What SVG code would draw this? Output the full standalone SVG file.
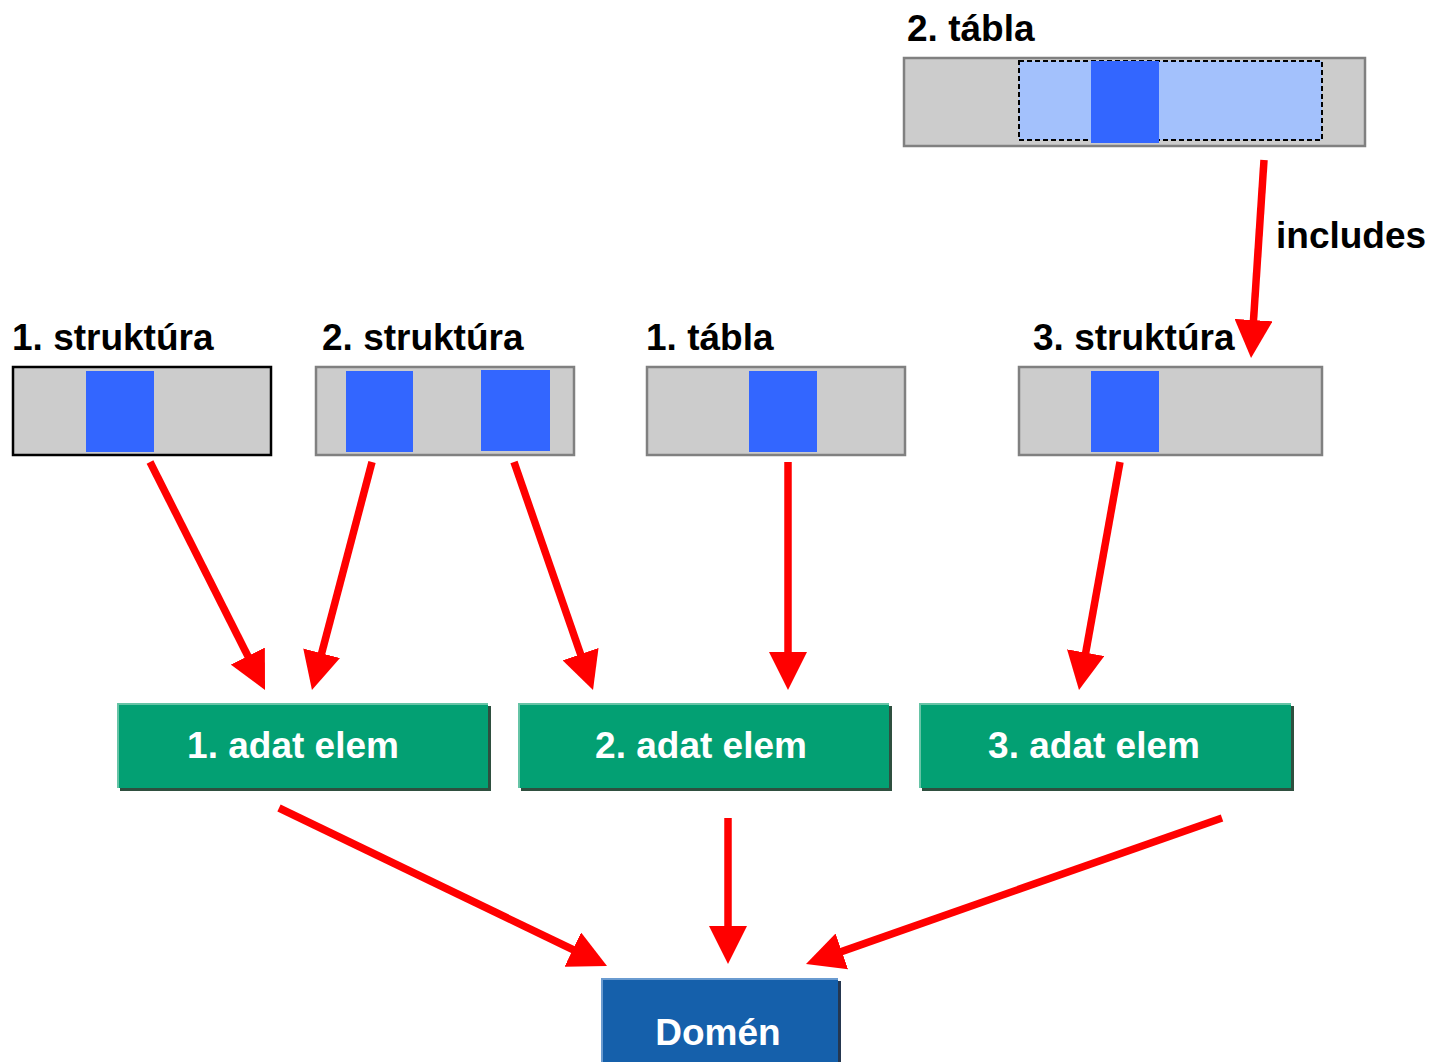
<svg xmlns="http://www.w3.org/2000/svg" width="1432" height="1062" viewBox="0 0 1432 1062">
<style>
.lbl{font-family:"Liberation Sans",Arial,sans-serif;font-weight:bold;font-size:37px;fill:#000}
.wt{font-family:"Liberation Sans",Arial,sans-serif;font-weight:bold;font-size:37px;fill:#fff;text-anchor:middle}
.tbl{fill:#CCCCCC;stroke:#808080;stroke-width:2.5}
.blk{fill:#3366FF}
.arr{stroke:#FF0000;stroke-width:7.5;fill:none;marker-end:url(#ah)}
.gshadow{fill:#2F4F3F}
.green{fill:#03A073}
.gedge{stroke:#66C4A6;stroke-width:2;fill:none}
</style>
<defs>
<marker id="ah" markerUnits="userSpaceOnUse" markerWidth="38" markerHeight="38" refX="8" refY="19" orient="auto">
<path d="M0,0 L38,19 L0,38 z" fill="#FF0000"/>
</marker>
</defs>
<rect width="1432" height="1062" fill="#fff"/>

<g id="tabla2">
<text class="lbl" x="907" y="41">2. tábla</text>
<rect class="tbl" x="904" y="58" width="461" height="88"/>
<rect x="1019" y="61" width="303" height="79" fill="#A3C1FC" stroke="#000" stroke-width="2" stroke-dasharray="5,3"/>
<rect class="blk" x="1091" y="61" width="68" height="82"/>
</g>

<g id="struktura1">
<text class="lbl" x="12" y="350">1. struktúra</text>
<rect x="13" y="367" width="258" height="88" fill="#CCCCCC" stroke="#000" stroke-width="2.5"/>
<rect class="blk" x="86" y="371" width="68" height="81"/>
</g>

<g id="struktura2">
<text class="lbl" x="322" y="350">2. struktúra</text>
<rect class="tbl" x="316" y="367" width="258" height="88"/>
<rect class="blk" x="346" y="371" width="67" height="81"/>
<rect class="blk" x="481" y="370" width="69" height="81"/>
</g>

<g id="tabla1">
<text class="lbl" x="646" y="350">1. tábla</text>
<rect class="tbl" x="647" y="367" width="258" height="88"/>
<rect class="blk" x="749" y="371" width="68" height="81"/>
</g>

<g id="struktura3">
<text class="lbl" x="1033" y="350">3. struktúra</text>
<rect class="tbl" x="1019" y="367" width="303" height="88"/>
<rect class="blk" x="1091" y="371" width="68" height="81"/>
</g>

<g id="adat1">
<rect class="gshadow" x="120" y="706" width="371" height="85"/>
<rect class="green" x="117" y="703" width="371" height="85"/>
<path class="gedge" d="M118,788 V704 H488"/>
<text class="wt" x="293" y="758">1. adat elem</text>
</g>

<g id="adat2">
<rect class="gshadow" x="521" y="706" width="371" height="85"/>
<rect class="green" x="518" y="703" width="371" height="85"/>
<path class="gedge" d="M519,788 V704 H889"/>
<text class="wt" x="701" y="758">2. adat elem</text>
</g>

<g id="adat3">
<rect class="gshadow" x="922" y="706" width="372" height="85"/>
<rect class="green" x="919" y="703" width="372" height="85"/>
<path class="gedge" d="M920,788 V704 H1291"/>
<text class="wt" x="1094" y="758">3. adat elem</text>
</g>

<g id="domen">
<rect x="604" y="981" width="237" height="90" fill="#253750"/>
<rect x="601" y="978" width="237" height="90" fill="#1560AB"/>
<path d="M602,1062 V979 H838" stroke="#6A9BD0" stroke-width="2" fill="none"/>
<text class="wt" x="718" y="1045">Domén</text>
</g>

<g id="connectors">
<line class="arr" x1="150" y1="462" x2="251.5" y2="663.2"/>
<line class="arr" x1="372" y1="462" x2="319.6" y2="661"/>
<line class="arr" x1="514" y1="462" x2="583.2" y2="661.7"/>
<line class="arr" x1="788" y1="462" x2="788" y2="660"/>
<line class="arr" x1="1120" y1="462" x2="1084.3" y2="660.5"/>
<line class="arr" x1="1264" y1="160" x2="1253" y2="328.1"/>
<line class="arr" x1="279" y1="808" x2="580" y2="953"/>
<line class="arr" x1="728" y1="818" x2="728" y2="934"/>
<line class="arr" x1="1222" y1="818" x2="834.3" y2="954.1"/>
<text class="lbl" x="1276" y="248">includes</text>
</g>
</svg>
